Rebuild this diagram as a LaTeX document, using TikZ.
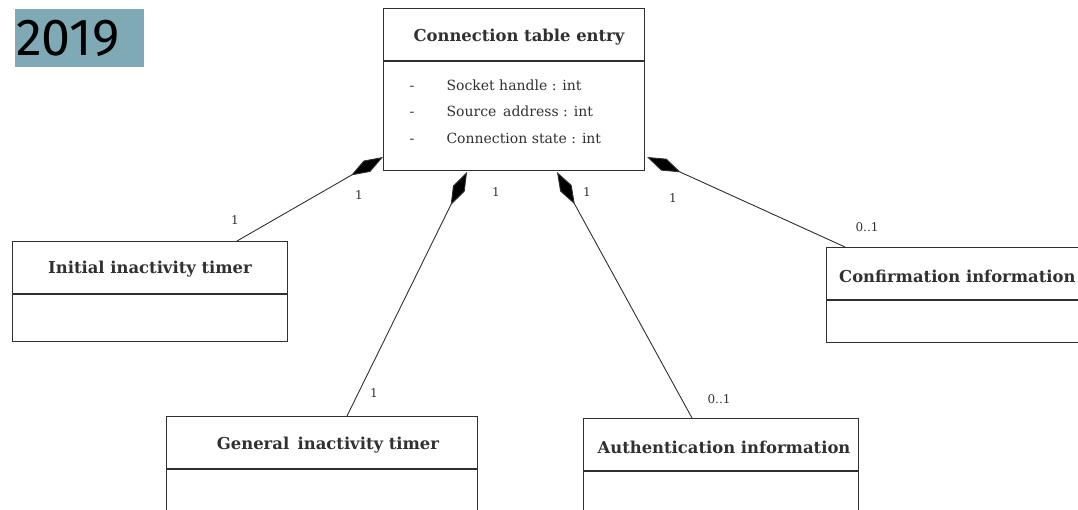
\documentclass[tikz,border=0pt]{standalone}
\usepackage{fontspec}
\setmainfont{DejaVu Serif}
\newfontfamily\yearfont{Fira Sans}
\usetikzlibrary{arrows.meta}
\definecolor{yearbg}{HTML}{80A9B6}
\definecolor{ink}{HTML}{303030}
\begin{document}
\begin{tikzpicture}[x=1pt,y=1pt,
  cls/.style={draw=ink, line width=1.1pt, anchor=north west, inner sep=0pt},
  title/.style={font=\fontsize{16.4}{18}\selectfont\bfseries, text=ink},
  attr/.style={font=\fontsize{14}{16}\selectfont, text=ink, anchor=west},
  mult/.style={font=\fontsize{12}{14}\selectfont, text=ink},
  comp/.style={draw=ink, line width=0.9pt, {Diamond[length=37pt,width=13pt,fill=black]}-}
]
\useasboundingbox (0,0) rectangle (1078,509);
\begin{scope}
\clip (0,0) rectangle (1078,509);
% year label
\node[fill=yearbg, anchor=north west, minimum width=129pt, minimum height=58pt, inner sep=0pt] (year) at (15,500) {};
\node[anchor=west, inner sep=0pt, font=\yearfont\fontsize{52}{52}\selectfont] (yeartxt) at (16,471) {2019};
% main class
\node[cls, minimum width=261pt, minimum height=162pt] (main) at (383,501) {};
\draw[draw=ink, line width=1.1pt] (383,448) -- (644,448);
\node[title] (maint) at (519,472) {Connection table entry};
\node[attr] (d1) at (406,421) {-};
\node[attr] (a1) at (443,424) {Socket handle : int};
\node[attr] (d2) at (406,395) {-};
\node[attr] (a2) at (443,398) {Source\, address : int};
\node[attr] (d3) at (406,368) {-};
\node[attr] (a3) at (443,371) {Connection state : int};
% initial inactivity timer
\node[cls, minimum width=275pt, minimum height=100pt] (init) at (12,268) {};
\draw[draw=ink, line width=1.1pt] (12,215) -- (287,215);
\node[title] (initt) at (150,240) {Initial inactivity timer};
% general inactivity timer
\node[cls, minimum width=311pt, minimum height=100pt] (gen) at (166,93) {};
\draw[draw=ink, line width=1.1pt] (166,40) -- (477,40);
\node[title] (gent) at (328,64) {General\, inactivity timer};
% authentication information
\node[cls, minimum width=275pt, minimum height=100pt] (auth) at (583,91) {};
\draw[draw=ink, line width=1.1pt] (583,38) -- (858,38);
\node[title] (autht) at (724,62) {Authentication information};
% confirmation information
\node[cls, minimum width=270pt, minimum height=95pt] (conf) at (826,262) {};
\draw[draw=ink, line width=1.1pt] (826,209) -- (1096,209);
\node[title, anchor=west, inner sep=0pt] (conft) at (839,233) {Confirmation information};
% attachment points
\coordinate (m1) at (383,352);
\coordinate (m2) at (467,337);
\coordinate (m3) at (557,337);
\coordinate (m4) at (647,352);
\coordinate (e1) at (237,268);
\coordinate (e2) at (347,93);
\coordinate (e3) at (692,91);
\coordinate (e4) at (845,262);
\draw[comp] (m1) -- (e1);
\draw[comp] (m2) -- (e2);
\draw[comp] (m3) -- (e3);
\draw[comp] (m4) -- (e4);
% multiplicities
\node[mult] (l1a) at (359,314) {1};
\node[mult] (l1b) at (235,289) {1};
\node[mult] (l2a) at (496,317) {1};
\node[mult] (l2b) at (374,116) {1};
\node[mult] (l3a) at (587,317) {1};
\node[mult] (l3b) at (719,110) {0..1};
\node[mult] (l4a) at (673,311) {1};
\node[mult] (l4b) at (867,282) {0..1};
\end{scope}
\end{tikzpicture}
\end{document}
